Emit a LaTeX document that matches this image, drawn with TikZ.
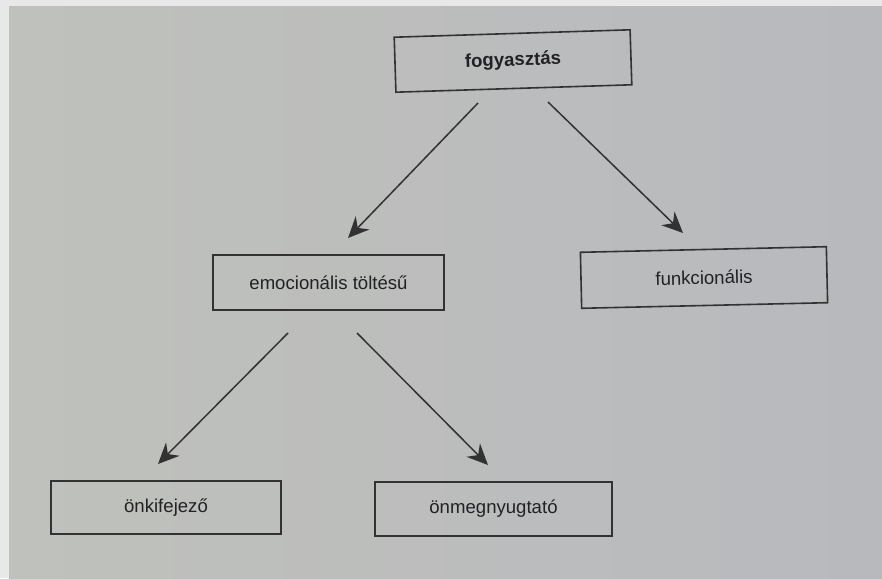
\documentclass[tikz,border=0pt]{standalone}
\usepackage{fontspec}
\setmainfont{Liberation Sans}
\usepackage{xcolor}
\usepackage{tikz}
\usetikzlibrary{arrows.meta}
\definecolor{PLine}{RGB}{50,50,50}
\definecolor{PText}{RGB}{34,34,36}
\definecolor{PPaperL}{RGB}{191,193,188}
\definecolor{PPaperR}{RGB}{184,185,189}
\definecolor{PEdge}{RGB}{232,232,232}

\tikzset{
  doboz/.style={
    draw=PLine,
    line width=1.6pt,
    text=PText,
    inner sep=0pt,
    align=center,
    font=\fontsize{18.6}{22}\selectfont
  },
  nyil/.style={
    draw=PLine,
    line width=1.5pt,
    -{Stealth[length=21pt,width=19pt,inset=7pt]}
  }
}

\begin{document}
\begin{tikzpicture}[x=1pt,y=-1pt]
      \useasboundingbox (0,0) rectangle (882,578);
      \fill[PEdge] (0,0) rectangle (882,578);
      \shade[left color=PPaperL,right color=PPaperR] (9,7) rectangle (882,578);

      % upper level
      \node[doboz, minimum width=236pt, minimum height=55pt, rotate=1.8] (fogy) at (513,61) {\textbf{fogyasztás}};
      \node[doboz, minimum width=231pt, minimum height=55pt] (emoc) at (328.5,282.5) {emocionális töltésű};
      \node[doboz, minimum width=246pt, minimum height=56pt, rotate=1.3] (funk) at (704,277.5) {funkcionális};

      % lower level
      \node[doboz, minimum width=230pt, minimum height=53pt] (onki) at (166,507.5) {önkifejező};
      \node[doboz, minimum width=237pt, minimum height=54pt] (onme) at (493.5,509) {önmegnyugtató};

      \draw[nyil] ([shift={(-35,42)}]fogy.center) -- ([shift={(19.5,-44.5)}]emoc.center);
      \draw[nyil] ([shift={(35,41)}]fogy.center) -- ([shift={(-21,-44.5)}]funk.center);
      \draw[nyil] ([shift={(-40.5,50.5)}]emoc.center) -- ([shift={(-8,-43.5)}]onki.center);
      \draw[nyil] ([shift={(28.5,50.5)}]emoc.center) -- ([shift={(-5.5,-44)}]onme.center);
    \end{tikzpicture}
\end{document}
